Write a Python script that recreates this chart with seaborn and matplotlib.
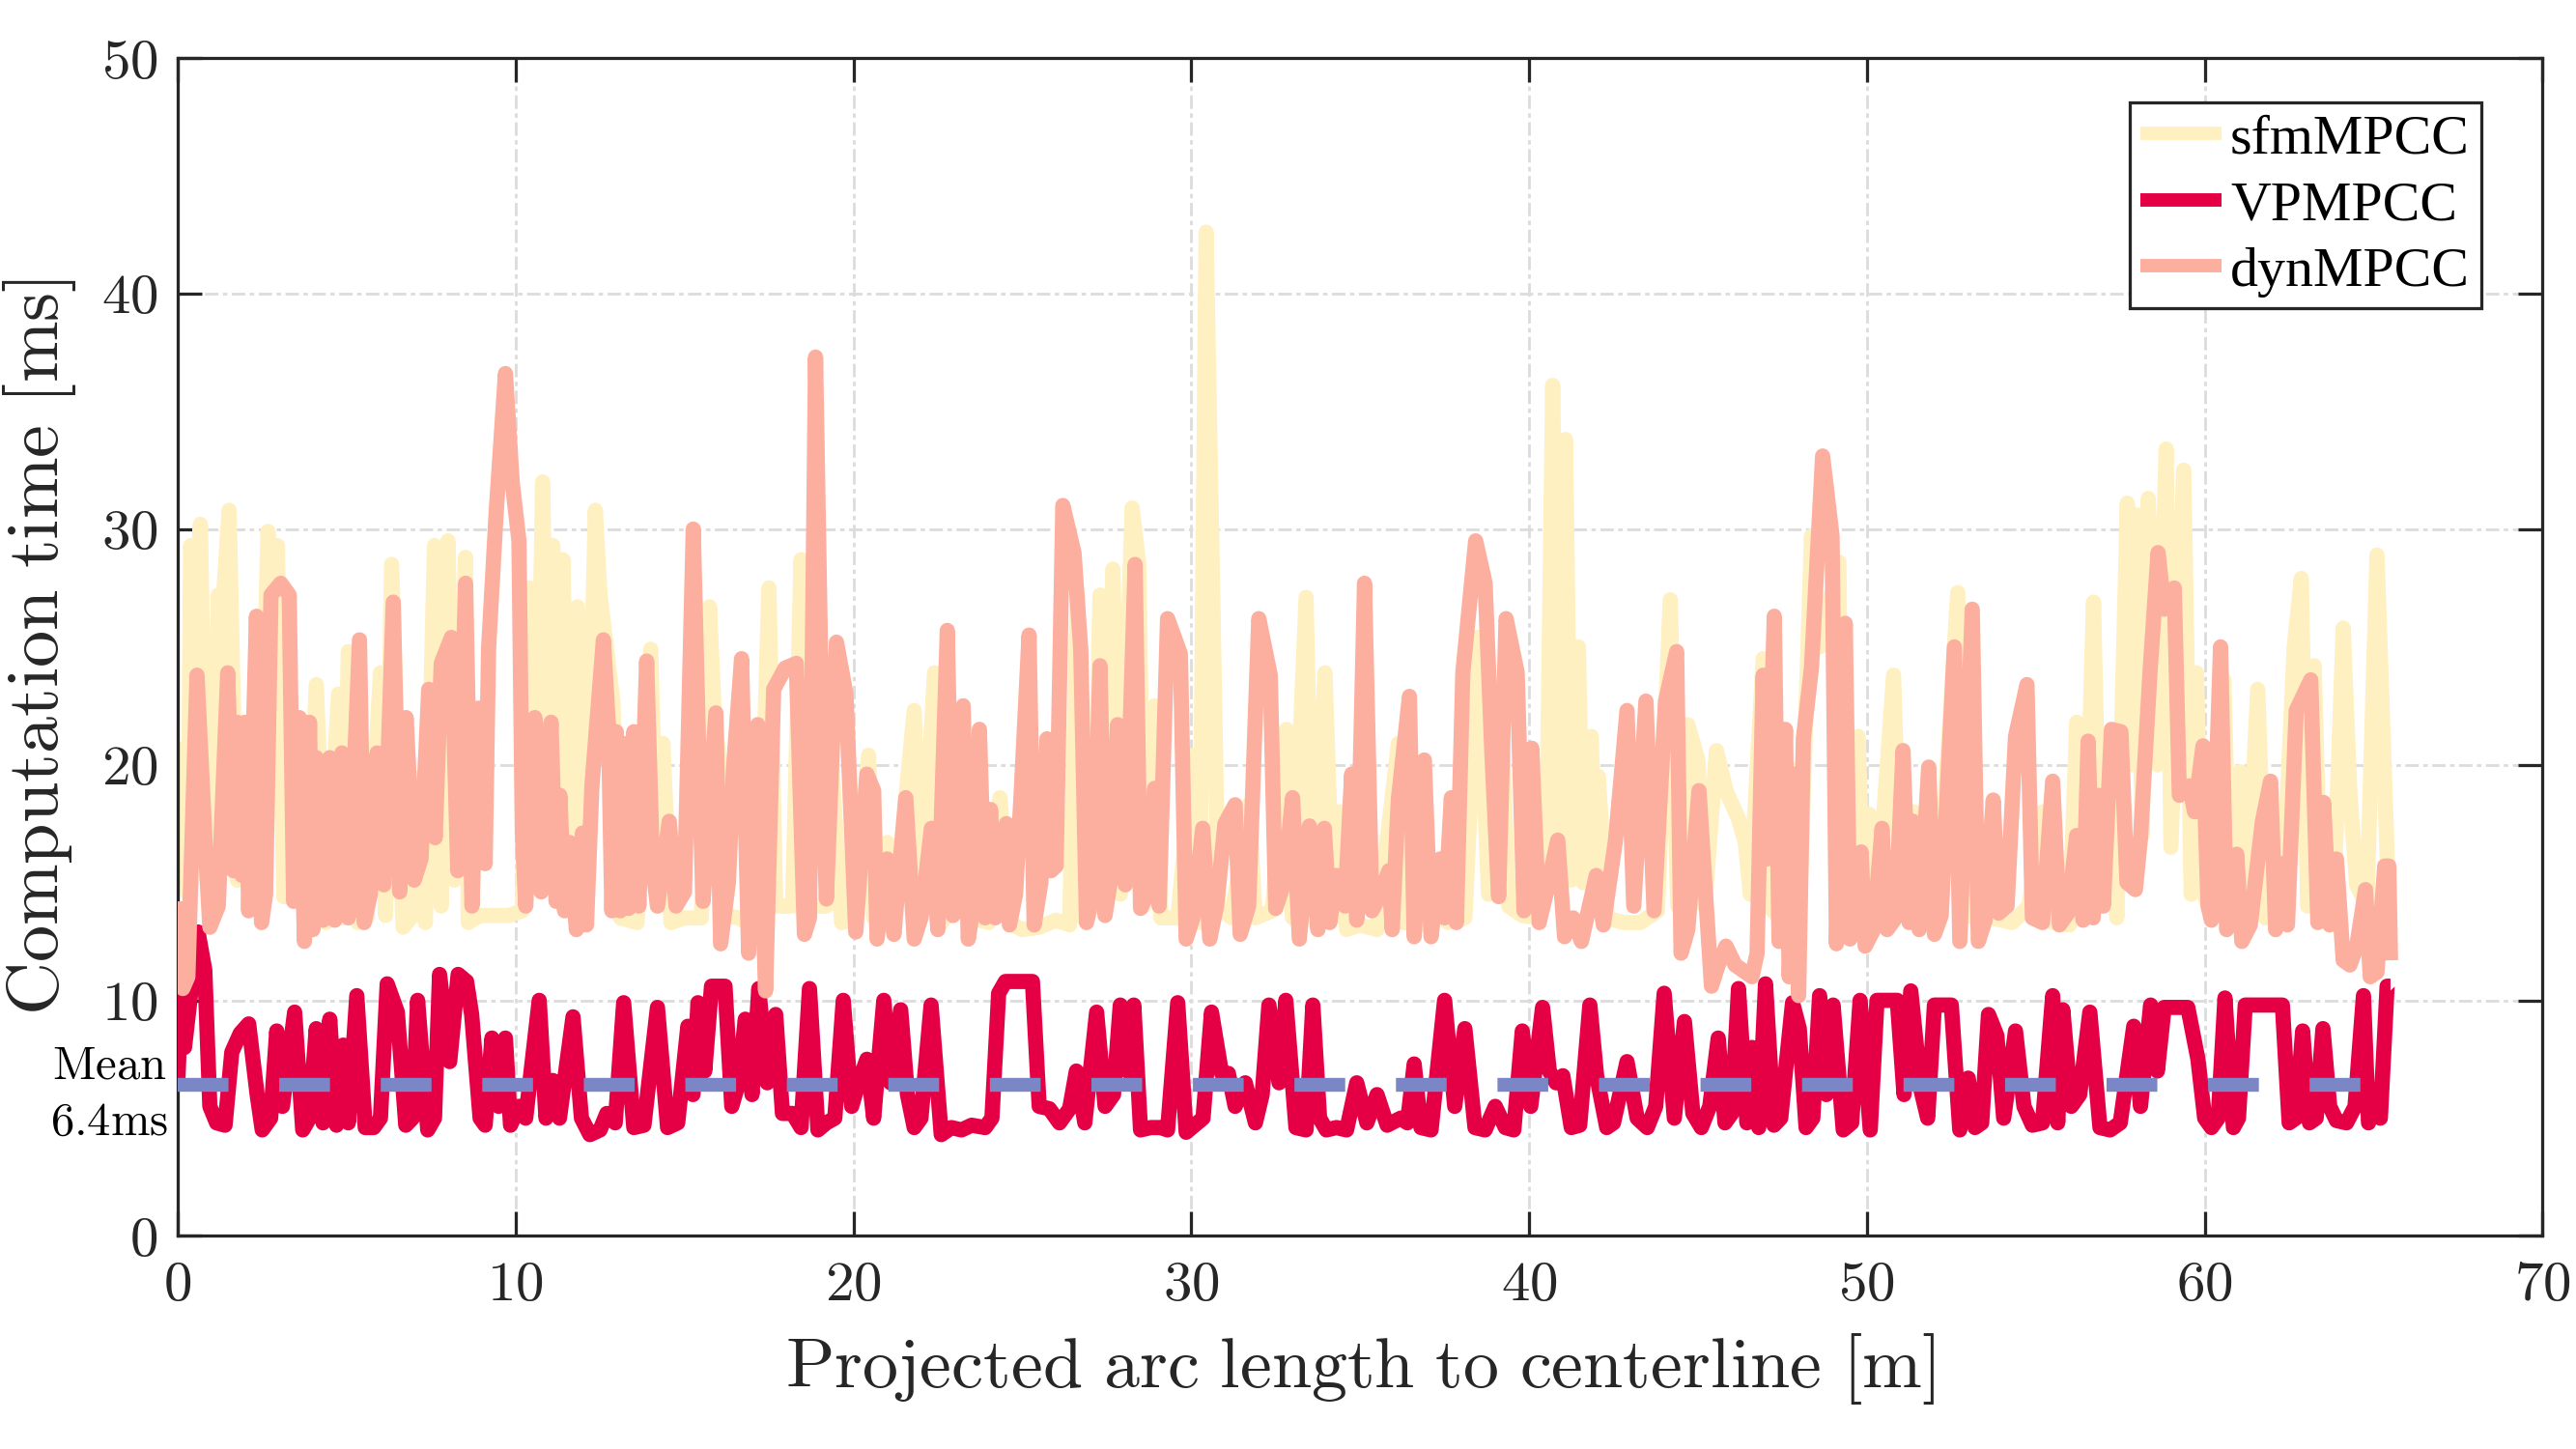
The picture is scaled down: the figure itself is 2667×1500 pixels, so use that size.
"""
Computation time vs. projected arc length for three MPCC variants
Values read by eye off the reference figure
"""

import matplotlib
matplotlib.use("Agg")
import matplotlib.pyplot as plt
import matplotlib.transforms as mtrans
import pandas as pd
import seaborn as sns

# data (arc length [m], computation time [ms])
sfm_x = [0.0, 0.19, 0.3, 0.38, 0.55, 0.67, 0.86, 0.95, 1.05, 1.2, 1.35, 1.52, 1.76, 1.9, 2.19,
         2.4, 2.67, 2.8, 2.95, 3.14, 3.5, 3.8, 4.1, 4.38, 4.76, 4.9, 5.05, 5.33, 5.6, 6.0,
         6.15, 6.33, 6.67, 6.9, 7.1, 7.33, 7.6, 7.8, 8.0, 8.19, 8.52, 8.6, 8.95, 9.3, 9.8,
         10.2, 10.4, 10.6, 10.8, 11.0, 11.1, 11.25, 11.4, 11.6, 11.83, 12.1, 12.36, 12.5, 12.88,
         13.1, 13.6, 14.0, 14.2, 14.36, 14.6, 15.0, 15.5, 15.74, 15.9, 16.07, 16.2, 16.6, 17.2,
         17.5, 17.7, 18.2, 18.45, 18.6, 19.2, 19.3, 19.65, 20.0, 20.45, 20.6, 21.0, 21.2, 21.8,
         22.0, 22.4, 22.55, 23.0, 23.5, 24.0, 24.34, 24.6, 25.0, 25.5, 26.0, 26.4, 26.63, 26.8,
         27.1, 27.3, 27.45, 27.68, 27.9, 28.25, 28.45, 28.6, 28.92, 29.1, 29.6, 30.06, 30.25,
         30.44, 30.65, 30.8, 31.2, 31.7, 31.9, 32.4, 32.82, 33.0, 33.4, 33.6, 33.96, 34.2, 34.4,
         34.6, 35.0, 35.5, 36.13, 36.3, 36.8, 37.3, 37.6, 38.1, 38.5, 38.8, 39.2, 39.4, 39.8,
         40.3, 40.5, 40.7, 40.85, 41.08, 41.25, 41.46, 41.6, 41.84, 41.95, 42.05, 42.15, 42.3,
         42.8, 43.3, 43.8, 44.18, 44.4, 44.7, 45.0,
         45.2, 45.55, 45.83, 46.2, 46.4, 46.55, 46.93, 47.1, 47.4, 47.83, 48.0, 48.36, 48.6,
         49.17, 49.3, 49.74, 49.9, 50.07, 50.3, 50.79, 51.0, 51.4, 51.6, 52.1, 52.69, 52.9, 53.4,
         53.7, 54.3, 54.8, 55.2, 55.5, 56.0, 56.21, 56.45, 56.71, 56.9, 57.14, 57.4, 57.71,
         57.85, 58.0, 58.15, 58.33, 58.6, 58.86, 59.0, 59.38, 59.6, 59.76, 59.9, 60.2, 60.57,
         60.75, 61.05, 61.25, 61.57, 61.8, 62.3, 62.65, 62.86, 63.05, 63.24, 63.45, 63.8, 64.1,
         64.3, 64.5, 64.8, 65.1, 65.3, 65.45]
sfm_y = [15.5, 20.7, 14.5, 29.3, 27.0, 30.2, 15.1, 21.2, 14.0, 27.2, 27.0, 30.8, 15.1, 21.8, 14.2,
         14.0, 29.9, 28.0, 29.3, 14.4, 14.5, 13.8, 23.4, 13.3, 23.0, 13.5, 24.8, 13.3, 13.5, 23.9,
         13.6, 28.5, 13.1, 13.5, 19.4, 13.3, 29.3, 14.0, 29.5, 15.1, 28.8, 13.3, 13.6, 13.6, 13.6,
         13.8, 27.5, 15.0, 32.0, 15.0, 29.3, 15.5, 28.7, 15.0, 26.7, 15.0, 30.8, 27.2, 22.7,
         13.5, 13.3, 24.9, 14.0, 20.9, 13.3, 13.5, 13.5, 26.7, 21.6, 20.0, 13.6, 13.5, 13.0,
         27.5, 14.0, 14.0, 28.7, 14.0, 14.0, 21.4, 13.3, 13.5, 20.4, 13.5, 16.7, 13.3, 22.3,
         13.5, 23.9, 13.2, 14.0, 13.5, 13.3, 18.6, 13.3, 13.0, 13.1, 13.4, 13.2, 27.2, 13.5,
         14.0, 27.2, 14.0, 28.3, 14.5, 30.9, 28.5, 14.0, 22.5, 13.5, 13.5, 20.4, 13.3,
         42.6, 26.2, 14.0, 13.5, 18.3, 13.5, 13.8, 21.5, 13.5, 27.1, 13.5, 23.9, 13.5, 18.0,
         13.0, 13.2, 13.0, 20.9, 13.3, 13.2, 14.0, 13.3, 13.5, 25.4, 14.5, 21.2, 14.0, 13.6,
         13.5, 14.5, 36.1, 17.0, 33.8, 15.1, 25.0, 15.0, 21.2, 15.5, 19.5, 17.2, 13.5,
         13.3, 13.3, 13.8, 27.0, 14.0, 21.7, 20.2,
         14.0, 20.6, 18.9, 17.7, 16.7, 14.5, 24.5, 14.0, 13.5, 19.8, 13.5, 29.7, 25.0,
         28.6, 14.0, 21.2, 14.0, 17.9, 13.8, 23.8, 14.0, 18.0, 13.5, 13.5, 27.3, 13.5, 17.5,
         13.5, 13.3, 14.0, 18.0, 13.3, 13.2, 21.8, 14.0, 26.9, 14.5, 21.2, 13.5, 31.1,
         20.0, 30.6, 17.0, 31.3, 20.0, 33.4, 16.5, 32.5, 14.5, 23.9, 14.9, 13.5, 23.6,
         13.5, 19.7, 13.8, 23.2, 13.5, 14.0, 25.0, 27.9, 14.0, 24.2, 13.5, 13.5, 25.8,
         18.7, 14.9, 14.0, 28.9, 20.5, 14.0]

vp_x = [0.0, 0.1, 0.2, 0.4, 0.6, 0.8, 0.95, 1.15, 1.4, 1.6,
        1.85, 2.1, 2.35, 2.5, 2.75, 2.93, 3.1, 3.46, 3.7, 3.9,
        4.1, 4.3, 4.5, 4.7, 4.9, 5.05, 5.3, 5.55, 5.8, 6.0,
        6.2, 6.5, 6.75, 6.95, 7.1, 7.4, 7.6, 7.75, 8.05, 8.3,
        8.55, 8.7, 8.95, 9.1, 9.3, 9.5, 9.7, 9.85, 10.1, 10.3,
        10.7, 10.9, 11.1, 11.3, 11.7, 11.95, 12.2, 12.5, 12.7, 12.95,
        13.2, 13.5, 13.8, 14.2, 14.5, 14.8, 15.1, 15.25, 15.4, 15.6,
        15.8, 16.0, 16.2, 16.4, 16.6, 16.8, 17.0, 17.2, 17.45, 17.7,
        17.9, 18.2, 18.45, 18.7, 18.95, 19.2, 19.45, 19.7, 19.95, 20.15,
        20.4, 20.6, 20.9, 21.1, 21.4, 21.6, 21.8, 22.0, 22.3, 22.6,
        22.9, 23.2, 23.5, 23.9, 24.1, 24.3, 24.5, 24.8, 25.1, 25.3,
        25.5, 25.8, 26.1, 26.4, 26.6, 26.85, 27.2, 27.45, 27.7, 27.9,
        28.1, 28.3, 28.5, 28.8, 29.1, 29.3, 29.6, 29.85, 30.1, 30.35,
        30.6, 30.9, 31.1, 31.3, 31.6, 31.9, 32.1, 32.3, 32.6, 32.8,
        33.1, 33.4, 33.6, 33.8, 34.0, 34.3, 34.6, 34.9, 35.2, 35.5,
        35.8, 36.2, 36.4, 36.6, 36.8, 37.1, 37.5, 37.8, 38.1, 38.4,
        38.7, 39.0, 39.3, 39.55, 39.8, 40.05, 40.4, 40.6, 40.8, 41.0,
        41.25, 41.5, 41.8, 42.0, 42.3, 42.5, 42.9, 43.2, 43.5, 43.75,
        44.0, 44.3, 44.6, 44.85, 45.1, 45.35, 45.6, 45.8, 46.0, 46.2,
        46.45, 46.6, 46.8, 47.0, 47.25, 47.45, 47.8, 48.0, 48.2, 48.4,
        48.6, 48.8, 49.0, 49.3, 49.55, 49.8, 50.1, 50.3, 50.6, 50.9,
        51.1, 51.3, 51.6, 51.8, 52.0, 52.3, 52.5, 52.75, 53.0, 53.2,
        53.4, 53.6, 53.85, 54.05, 54.4, 54.65, 54.9, 55.2, 55.5, 55.65,
        55.8, 56.05, 56.3, 56.6, 56.9, 57.2, 57.5, 57.9, 58.1, 58.4,
        58.6, 58.8, 59.1, 59.5, 59.8, 60.0, 60.2, 60.4, 60.6, 60.85,
        61.0, 61.2, 61.5, 61.8, 62.1, 62.3, 62.5, 62.7, 62.9, 63.1,
        63.3, 63.5, 63.7, 63.9, 64.2, 64.45, 64.7, 64.85, 65.0, 65.2,
        65.4, 65.5]
vp_y = [6.5, 10.0, 8.0, 10.5, 12.9, 11.3, 5.5, 4.8, 4.7, 7.8,
        8.6, 9.0, 6.0, 4.5, 5.0, 8.7, 5.5, 9.5, 4.5, 5.0,
        8.8, 4.8, 9.2, 4.7, 8.1, 4.8, 10.2, 4.6, 4.6, 5.0,
        10.7, 9.5, 4.7, 5.0, 10.0, 4.5, 5.0, 11.1, 7.4, 11.1,
        10.8, 9.4, 5.0, 4.7, 8.4, 5.5, 8.4, 4.7, 5.5, 5.0,
        10.0, 5.0, 6.6, 5.0, 9.3, 5.0, 4.3, 4.5, 5.2, 4.8,
        9.9, 4.6, 4.7, 9.7, 4.6, 4.8, 8.9, 6.0, 9.9, 7.0,
        10.6, 10.6, 10.6, 5.5, 6.5, 9.2, 6.0, 10.5, 6.5, 9.4,
        5.2, 5.2, 4.6, 10.5, 4.5, 4.8, 5.0, 10.0, 5.5, 6.5,
        7.5, 5.0, 10.0, 6.5, 9.6, 6.0, 4.6, 5.0, 9.8, 4.3,
        4.6, 4.5, 4.7, 4.6, 5.0, 10.3, 10.8, 10.8, 10.8, 10.8,
        5.5, 5.4, 4.8, 5.4, 7.0, 4.8, 9.5, 5.5, 6.0, 9.8,
        7.0, 9.8, 4.5, 4.6, 4.6, 4.5, 9.9, 4.4, 4.7, 5.0,
        9.5, 6.9, 6.9, 5.5, 6.5, 4.8, 6.0, 9.8, 6.5, 10.0,
        4.6, 4.5, 9.8, 5.0, 4.5, 4.6, 4.5, 6.5, 4.8, 6.0,
        4.7, 5.0, 4.8, 7.3, 4.6, 4.5, 10.0, 5.5, 8.8, 4.6,
        4.5, 5.5, 4.6, 4.5, 8.7, 5.5, 9.7, 7.0, 6.5, 6.8,
        4.6, 4.7, 9.8, 6.8, 4.6, 4.8, 7.4, 5.0, 4.6, 5.5,
        10.3, 5.0, 9.1, 5.2, 4.6, 5.5, 8.4, 4.8, 5.2, 10.5,
        4.8, 8.0, 4.6, 10.7, 4.7, 5.0, 9.9, 8.8, 4.6, 5.0,
        10.2, 6.0, 9.8, 4.5, 4.8, 10.0, 4.5, 10.0, 10.0, 10.0,
        6.0, 10.4, 6.2, 5.0, 9.8, 9.8, 9.8, 4.5, 6.7, 4.6,
        4.8, 9.4, 8.5, 5.0, 8.7, 5.5, 4.7, 4.8, 10.2, 4.8,
        9.6, 5.5, 6.0, 9.5, 4.6, 4.5, 4.8, 8.9, 5.5, 9.8,
        7.0, 9.7, 9.7, 9.7, 7.5, 5.0, 4.6, 5.0, 10.1, 4.6,
        5.0, 9.8, 9.8, 9.8, 9.8, 9.8, 4.8, 5.0, 8.7, 4.8,
        5.0, 8.8, 5.5, 4.9, 4.8, 5.5, 10.2, 4.8, 5.5, 5.0,
        10.6, 10.6]

dyn_x = [0.0, 0.15, 0.3, 0.57, 0.8, 0.95, 1.2, 1.48, 1.65, 1.76, 1.9, 2.0, 2.1, 2.33, 2.48, 2.6,
         2.76, 3.05, 3.3, 3.43, 3.6, 3.75, 3.9, 4.0, 4.1, 4.3, 4.5, 4.65, 4.86, 5.05, 5.38,
         5.52, 5.7, 5.9, 6.1, 6.38, 6.57, 6.76, 7.0, 7.2, 7.43, 7.62, 7.8, 8.1, 8.29, 8.52,
         8.71, 8.9, 9.1, 9.2, 9.43, 9.7, 9.9, 10.1, 10.2, 10.3, 10.57, 10.76, 11.05, 11.2,
         11.31, 11.45, 11.6, 11.8, 11.98, 12.1, 12.26, 12.6, 12.75, 12.85, 12.98, 13.1, 13.2,
         13.35, 13.5, 13.65, 13.88, 14.05, 14.2, 14.55, 14.75, 15.0, 15.26, 15.45, 15.55,
         15.93, 16.07, 16.3, 16.45, 16.69, 16.9, 17.17, 17.4, 17.64, 17.98, 18.31, 18.55,
         18.7, 18.88, 19.1, 19.2, 19.5, 19.78, 20.07, 20.4, 20.6, 20.7, 21.0, 21.2, 21.55,
         21.8, 22.0, 22.31, 22.5, 22.78, 22.95, 23.1, 23.25, 23.4, 23.55, 23.73, 23.9, 24.06,
         24.2, 24.35, 24.53, 24.62, 24.8, 24.96, 25.2, 25.35, 25.55, 25.73, 25.85, 26.0, 26.2,
         26.53, 26.73, 26.9, 27.1, 27.3, 27.45, 27.6, 27.82, 28.05, 28.34, 28.5, 28.7, 28.92,
         29.05, 29.3, 29.68, 29.85, 30.05, 30.34, 30.55, 30.75, 31.0, 31.3, 31.45, 31.7, 32.0,
         32.34, 32.5, 32.75, 33.0, 33.2, 33.5, 33.75, 33.94, 34.1, 34.3, 34.55, 34.75, 34.9,
         35.13, 35.35, 35.6, 35.85, 35.95, 36.13, 36.46, 36.6, 36.9, 37.1, 37.37, 37.5, 37.7,
         37.85, 38.04, 38.42, 38.7, 38.9, 39.1, 39.32, 39.65, 39.85, 40.08, 40.3, 40.5, 40.85,
         41.05, 41.3, 41.55, 41.99, 42.2, 42.56, 42.9, 43.1, 43.46, 43.7, 44.04, 44.37, 44.5,
         44.7, 45.03, 45.4, 45.6, 45.83, 46.1, 46.4, 46.6, 46.75, 46.93, 47.05, 47.26, 47.4,
         47.59, 47.7, 47.88, 47.98, 48.12, 48.36, 48.69, 48.97, 49.1, 49.36, 49.5, 49.65,
         49.83, 49.95, 50.2, 50.45, 50.6, 50.85, 51.07, 51.25, 51.36, 51.55, 51.83, 52.0,
         52.2, 52.59, 52.75, 53.12, 53.3, 53.5, 53.74, 53.9, 54.15, 54.4, 54.74, 54.9, 55.2,
         55.5, 55.7, 55.95, 56.21, 56.4, 56.55, 56.7, 56.86, 57.0, 57.24, 57.52, 57.7, 57.95,
         58.1, 58.38, 58.62, 58.8, 59.1, 59.25, 59.55, 59.7, 59.95, 60.1, 60.2, 60.47, 60.65,
         60.8, 60.95, 61.1, 61.35, 61.71, 61.95, 62.1, 62.28, 62.45, 62.71, 63.14, 63.35,
         63.52, 63.7, 63.9, 64.1, 64.3, 64.5, 64.76, 64.9, 65.1, 65.33, 65.45, 65.5]
dyn_y = [14.2, 10.5, 11.0, 23.8, 17.0, 13.1, 14.0, 23.9, 15.5, 21.8, 15.3, 21.8, 13.8, 26.3, 13.3, 14.5,
         27.2, 27.7, 27.2, 14.2, 22.0, 12.5, 21.8, 13.0, 20.3, 13.4, 20.3, 13.4, 20.5, 13.5, 25.3,
         13.3, 14.5, 20.5, 14.9, 26.9, 14.6, 22.0, 15.1, 16.0, 23.2, 16.9, 24.3, 25.4, 15.5, 27.7,
         14.0, 22.4, 15.8, 24.9, 30.8, 36.6, 32.0, 29.5, 17.1, 14.0, 22.0, 14.6, 21.8, 14.2,
         18.7, 13.8, 16.7, 13.0, 17.1, 13.2, 19.1, 25.3, 21.6, 13.8, 21.4, 13.8, 20.9,
         13.9, 21.4, 14.0, 24.4, 15.8, 14.0, 17.6, 14.0, 14.6, 30.0, 18.9, 14.2,
         22.2, 12.4, 15.0, 19.8, 24.5, 12.0, 21.7, 10.4, 23.2, 24.1, 24.3, 12.8,
         13.5, 37.3, 18.7, 14.3, 25.2, 23.0, 12.9, 19.6, 18.9, 12.6, 16.0, 12.8, 18.6,
         12.6, 13.5, 17.3, 13.0, 25.7, 13.6, 16.0, 22.5, 12.6, 14.0, 21.5, 13.5, 18.1,
         13.5, 15.0, 17.5, 13.2, 14.5, 18.6, 25.5, 13.2, 15.0, 21.1, 15.5, 15.7, 31.0,
         29.0, 24.9, 13.3, 14.5, 24.2, 13.6, 15.0, 21.7, 14.9, 28.5, 13.9, 14.5, 19.0,
         14.0, 26.2, 24.7, 12.6, 13.5, 17.3, 12.6, 14.0, 17.5, 18.3, 12.8, 14.0, 26.2,
         23.8, 13.9, 15.0, 18.6, 12.6, 17.4, 13.0, 17.3, 13.3, 15.3, 14.0, 19.6, 13.4,
         27.7, 13.8, 14.5, 15.5, 13.0, 18.5, 22.9, 12.7, 20.2, 12.7, 16.0, 13.5, 18.6,
         13.3, 23.9, 29.5, 27.7, 20.5, 14.4, 26.2, 23.9, 13.8, 20.7, 13.3, 14.5, 16.8,
         12.7, 13.5, 12.5, 15.3, 13.2, 16.8, 22.3, 14.0, 22.7, 13.8, 22.7, 24.8, 12.0,
         13.0, 18.9, 10.6, 11.5, 12.3, 11.5, 11.2, 11.0, 12.0, 23.8, 16.0, 26.3, 12.5,
         21.5, 11.0, 19.6, 10.2, 21.1, 24.1, 33.1, 29.7, 12.4, 26.0, 12.6, 13.0,
         16.3, 12.3, 13.0, 17.3, 13.0, 13.5, 20.6, 13.3, 17.6, 13.0, 19.9, 12.8,
         13.6, 25.0, 12.5, 26.6, 12.5, 13.4, 18.5, 13.7, 14.0, 21.2, 23.4, 13.5, 13.3,
         19.3, 13.2, 13.7, 17.0, 13.4, 21.0, 13.5, 18.7, 14.0, 21.5, 21.4, 15.0, 14.7,
         16.9, 23.9, 29.0, 26.6, 27.5, 18.7, 19.1, 18.0, 20.8, 14.0, 13.4, 25.0, 13.0,
         13.7, 16.2, 12.5, 13.2, 17.6, 19.3, 13.0, 15.8, 13.2, 22.3, 23.6, 13.3,
         18.4, 13.2, 16.0, 11.7, 11.5, 12.3, 14.7, 11.0, 11.2, 15.7, 15.7, 11.7]

mean_x = [0.0, 65.5]
mean_y = [6.4, 6.4]
mean_text = ["Mean", "6.4ms"]

x_ticks = [0, 10, 20, 30, 40, 50, 60, 70]
y_ticks = [0, 10, 20, 30, 40, 50]

SFM_YELLOW = "#FFF0C1"
VP_RED     = "#E50046"
DYN_SALMON = "#FCAE9F"
MEAN_BLUE  = "#7B86C6"
INK        = "#262626"

sns.set_theme(style="white")
plt.rcParams["font.family"] = ["Liberation Serif", "DejaVu Serif"]
plt.rcParams["mathtext.fontset"] = "cm"
plt.rcParams["lines.scale_dashes"] = False

fig, ax = plt.subplots(figsize=(16, 9), dpi=2667 / 16)
fig.subplots_adjust(left=0.069, right=0.987, bottom=0.147, top=0.96)

# the original traces are much denser, a slightly heavier stroke makes up for it
line_kw = dict(linewidth=6.8, solid_joinstyle="round", solid_capstyle="butt")
series = [
    (sfm_x, sfm_y, SFM_YELLOW, "sfmMPCC", 2),
    (vp_x, vp_y, VP_RED, "VPMPCC", 3),
    (dyn_x, dyn_y, DYN_SALMON, "dynMPCC", 4),
]
for xs, ys, col, name, z in series:
    df = pd.DataFrame({"s": xs, "t": ys})
    sns.lineplot(data=df, x="s", y="t", ax=ax, color=col, label=name,
                 zorder=z, estimator=None, sort=False, **line_kw)

df_mean = pd.DataFrame({"s": mean_x, "t": mean_y})
sns.lineplot(data=df_mean, x="s", y="t", ax=ax, color=MEAN_BLUE, label="_mean",
             zorder=5, estimator=None, linewidth=6.2, solid_capstyle="butt")
ax.lines[-1].set_dashes((22.7, 22.7))
ax.lines[-1].set_dash_capstyle("butt")

# axes, MATLAB-like box
ax.set_xlim(x_ticks[0], x_ticks[-1])
ax.set_ylim(y_ticks[0], y_ticks[-1])
ax.set_xticks(x_ticks)
ax.set_yticks(y_ticks)
ax.set_xticklabels([f"${v}$" for v in x_ticks])
ax.set_yticklabels([f"${v}$" for v in y_ticks])
ax.tick_params(axis="both", which="both", direction="in", length=10.8, width=1.4,
               top=True, right=True, bottom=True, left=True,
               labelsize=25.5, colors=INK)
ax.tick_params(axis="x", pad=11)
ax.tick_params(axis="y", pad=9)
for sp in ax.spines.values():
    sp.set_visible(True)
    sp.set_color(INK)
    sp.set_linewidth(1.4)

ax.set_axisbelow(True)
ax.grid(True, color="#DCDCDC", linewidth=1.2, linestyle=(0, (6, 2, 2, 2)))

ax.set_xlabel(r"$\mathrm{Projected\ arc\ length\ to\ centerline\ [m]}$",
              fontsize=32, color=INK, labelpad=8)
ax.set_ylabel(r"$\mathrm{Computation\ time\ [ms]}$", fontsize=33, color=INK, labelpad=10)

# mean annotation left of the axis
tr = mtrans.blended_transform_factory(ax.transAxes, ax.transData)
ax.text(-0.029, 6.7, rf"$\mathrm{{{mean_text[0]}}}$", transform=tr, ha="center",
        va="baseline", fontsize=21, color="black", clip_on=False)
ax.text(-0.029, 4.3, rf"$\mathrm{{{mean_text[1]}}}$", transform=tr, ha="center",
        va="baseline", fontsize=21, color="black", clip_on=False)

leg = ax.legend(loc="upper right", bbox_to_anchor=(0.974, 0.962), borderaxespad=0,
                prop={"family": "Liberation Serif", "size": 25},
                handlelength=1.45, handletextpad=0.15, labelspacing=0.28,
                borderpad=0.2, fancybox=False, framealpha=1)
leg.get_frame().set_edgecolor(INK)
leg.get_frame().set_linewidth(1.4)
for h in leg.get_lines():
    h.set_linewidth(6.0)
for t in leg.get_texts():
    t.set_color("black")

fig.savefig("out.png", dpi=2667 / 16)
